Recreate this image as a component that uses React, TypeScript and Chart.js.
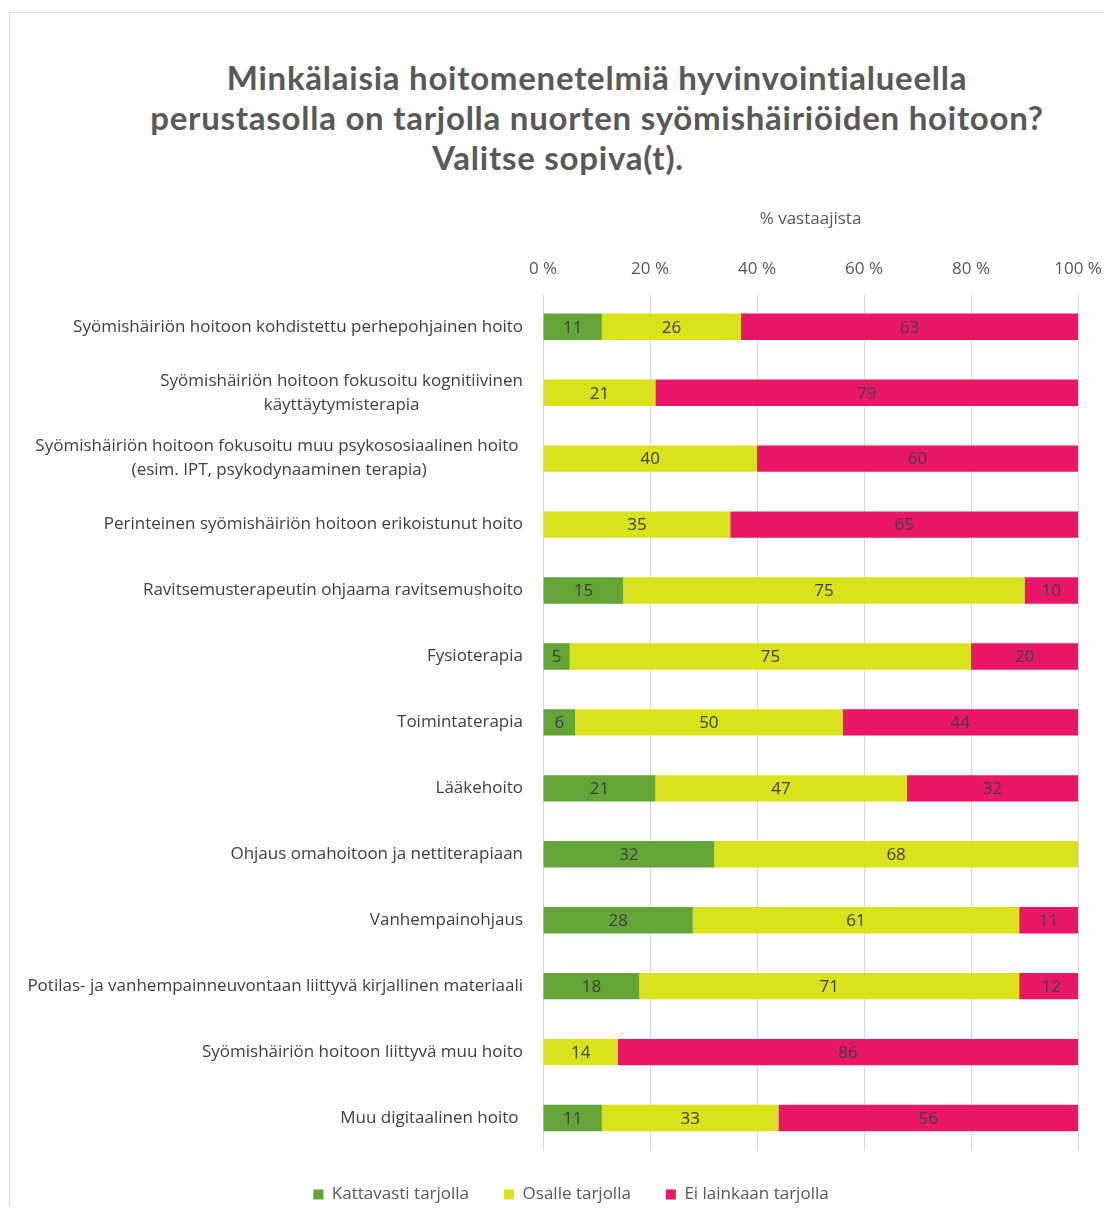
import React, { useEffect, useRef } from "react";
import { Chart, registerables } from "chart.js";

Chart.register(...registerables);

const titleLines = [
  "Minkälaisia hoitomenetelmiä hyvinvointialueella",
  "perustasolla on tarjolla nuorten syömishäiriöiden hoitoon?",
  "Valitse sopiva(t).",
];

const axisTitle = "% vastaajista";

const categories: string[][] = [
  ["Syömishäiriön hoitoon kohdistettu perhepohjainen hoito"],
  ["Syömishäiriön hoitoon fokusoitu kognitiivinen", "käyttäytymisterapia"],
  ["Syömishäiriön hoitoon fokusoitu muu psykososiaalinen hoito ", "(esim. IPT, psykodynaaminen terapia)"],
  ["Perinteinen syömishäiriön hoitoon erikoistunut hoito"],
  ["Ravitsemusterapeutin ohjaama ravitsemushoito"],
  ["Fysioterapia"],
  ["Toimintaterapia"],
  ["Lääkehoito"],
  ["Ohjaus omahoitoon ja nettiterapiaan"],
  ["Vanhempainohjaus"],
  ["Potilas- ja vanhempainneuvontaan liittyvä kirjallinen materiaali"],
  ["Syömishäiriön hoitoon liittyvä muu hoito"],
  ["Muu digitaalinen hoito "],
];

const seriesNames = ["Kattavasti tarjolla", "Osalle tarjolla", "Ei lainkaan tarjolla"];
const kattavasti = [11, 0, 0, 0, 15, 5, 6, 21, 32, 28, 18, 0, 11];
const osalle = [26, 21, 40, 35, 75, 75, 50, 47, 68, 61, 71, 14, 33];
const eiLainkaan = [63, 79, 60, 65, 10, 20, 44, 32, 0, 11, 12, 86, 56];
const seriesColors = ["#64A537", "#D8E31B", "#EA1667"];

const FONT = "'Open Sans', Lato, sans-serif";
const TITLE_FONT = "Lato, 'Open Sans', sans-serif";

export default function App() {
  const ref = useRef<HTMLCanvasElement>(null);

  useEffect(() => {
    if (!ref.current) return;
    const labelPlugin = {
      id: "customLabels",
      afterDraw(chart: any) {
        const ctx = chart.ctx;
        const yScale = chart.scales.y;
        const area = chart.chartArea;
        ctx.save();
        ctx.font = `17px ${FONT}`;
        ctx.fillStyle = "#404040";
        ctx.textBaseline = "middle";
        ctx.textAlign = "center";
        const lh = 24;
        categories.forEach((lines, i) => {
          const py = yScale.getPixelForValue(i);
          const w = Math.max(...lines.map((l) => ctx.measureText(l).width));
          const cx = area.left - 20 - w / 2;
          lines.forEach((l, k) => {
            ctx.fillText(l, cx, py - ((lines.length - 1) * lh) / 2 + k * lh);
          });
        });
        chart.data.datasets.forEach((ds: any, di: number) => {
          const meta = chart.getDatasetMeta(di);
          meta.data.forEach((el: any, j: number) => {
            const v = ds.data[j];
            if (!v) return;
            const p = el.getCenterPoint();
            ctx.fillText(String(v), p.x, p.y + 1);
          });
        });
        ctx.restore();
      },
    };

    const values = [kattavasti, osalle, eiLainkaan];
    const chart = new Chart(ref.current, {
      type: "bar",
      data: {
        labels: categories as any,
        datasets: seriesNames.map((name, i) => ({
          label: name,
          data: values[i],
          backgroundColor: seriesColors[i],
          borderWidth: 0,
          barPercentage: 0.4,
          categoryPercentage: 1,
        })),
      },
      options: {
        indexAxis: "y",
        animation: false,
        responsive: false,
        maintainAspectRatio: false,
        layout: { padding: { left: 54, right: 32, top: 17, bottom: 0 } },
        plugins: {
          tooltip: { enabled: false },
          title: { display: false },
          legend: {
            position: "bottom",
            labels: {
              boxWidth: 10,
              boxHeight: 10,
              padding: 35,
              color: "#595959",
              font: { family: FONT, size: 17 },
            },
          },
        },
        scales: {
          x: {
            position: "top",
            stacked: true,
            min: 0,
            max: 100,
            grid: { color: "#D9D9D9", drawTicks: false },
            border: { display: false },
            ticks: {
              stepSize: 20,
              padding: 14,
              color: "#595959",
              font: { family: FONT, size: 17 },
              callback: (v: any) => `${v} %`,
            },
            title: {
              display: true,
              text: axisTitle,
              color: "#595959",
              font: { family: FONT, size: 17 },
              padding: { top: 2, bottom: 16 },
            },
            afterFit: (scale: any) => {
              scale.paddingLeft = 0;
              scale.paddingRight = 0;
            },
          },
          y: {
            stacked: true,
            grid: { display: false },
            border: { display: false },
            ticks: { display: false },
            afterFit: (scale: any) => {
              scale.width = 479;
            },
          },
        },
      },
      plugins: [labelPlugin],
    } as any);
    return () => chart.destroy();
  }, []);

  return (
    <div style={{ position: "relative", height: 1198 }}>
      <div
        style={{
          position: "absolute",
          left: 1,
          top: 4,
          width: 1103,
          height: 1194,
          borderLeft: "1px solid #D9D9D9",
          borderTop: "1px solid #D9D9D9",
        }}
      />
      <div
        style={{
          position: "absolute",
          left: 89,
          top: 49,
          width: 1000,
          textAlign: "center",
          fontFamily: TITLE_FONT,
          fontWeight: 700,
          fontSize: 33,
          letterSpacing: "0.75px",
          lineHeight: "40px",
          color: "#595959",
        }}
      >
        {titleLines.map((t, i) => (
          <div key={i} style={i === 2 ? { paddingRight: 78 } : undefined}>
            {t}
          </div>
        ))}
      </div>
      <canvas
        ref={ref}
        width={1100}
        height={1023}
        style={{ position: "absolute", left: 2, top: 182, width: 1100, height: 1023 }}
      />
    </div>
  );
}
